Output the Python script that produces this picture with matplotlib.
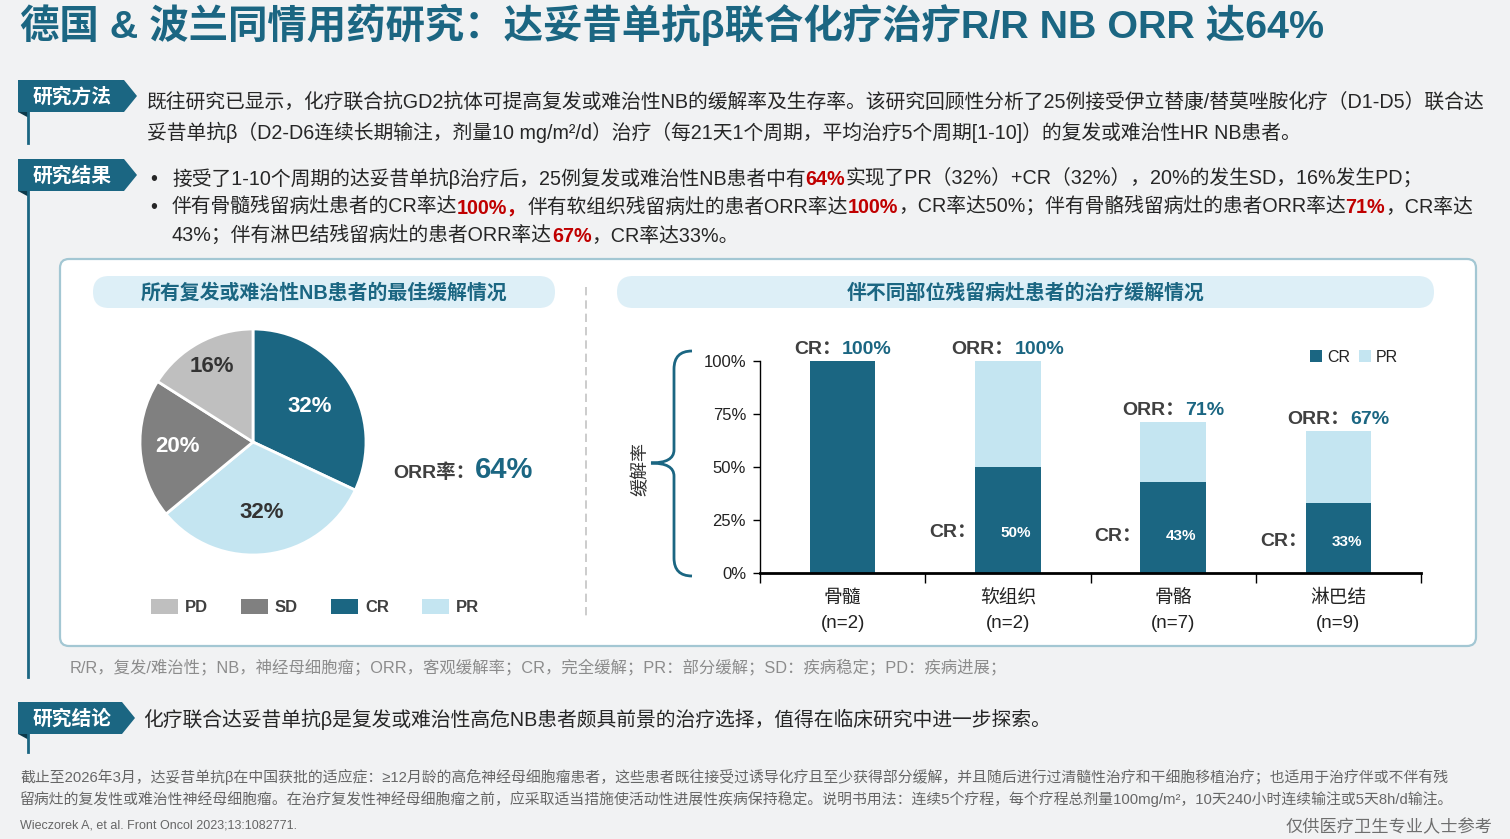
import numpy as np
import matplotlib
matplotlib.use('Agg')
import matplotlib.pyplot as plt
from matplotlib.patches import Polygon, FancyBboxPatch, PathPatch, Patch
from matplotlib.path import Path

plt.rcParams['font.family'] = ['Liberation Sans', 'Noto Sans CJK SC']

W, H = 1510, 839
TEAL = '#1B6682'
LIGHT = '#C4E5F1'
PILL = '#DDEFF7'
DARK = '#262626'
RED = '#C00000'

# ---- data ----
pie_labels = ['CR', 'PR', 'SD', 'PD']
pie_values = [32, 32, 20, 16]
pie_colors = [TEAL, LIGHT, '#808080', '#BFBFBF']
pie_text_colors = ['white', '#333333', 'white', '#333333']
orr_all = 64

sites = ['骨髓', '软组织', '骨骼', '淋巴结']
site_n = [2, 2, 7, 9]
cr_rate = [100, 50, 43, 33]
pr_rate = [0, 50, 28, 34]
orr_rate = [100, 100, 71, 67]
top_tag = ['CR', 'ORR', 'ORR', 'ORR']
yticks = [0, 25, 50, 75, 100]

fig = plt.figure(figsize=(W / 100, H / 100), dpi=100)
fig.patch.set_facecolor('#F1F2F3')
bg = fig.add_axes([0, 0, 1, 1])
bg.set_xlim(0, W)
bg.set_ylim(H, 0)
bg.axis('off')
renderer = fig.canvas.get_renderer()


def runs(ax, x, y, parts, size, ha='left'):
    # draw text pieces one after another on a common baseline
    texts = []
    cx = x
    for s, c, w, *sz in parts:
        fs = sz[0] if sz else size
        t = ax.text(cx, y, s, color=c, fontsize=fs, fontweight=w, ha='left', va='baseline', zorder=10)
        cx += t.get_window_extent(renderer).width
        texts.append(t)
    if ha == 'center':
        shift = (cx - x) / 2
        for t in texts:
            t.set_x(t.get_position()[0] - shift)
    return cx


def tab(x0, y0, y1, label, line_end, x1=124):
    ym = (y0 + y1) / 2
    bg.add_patch(Polygon([(x0, y0), (x1, y0), (x1 + 13, ym), (x1, y1), (x0, y1)],
                         closed=True, fc=TEAL, ec='none'))
    bg.add_patch(Polygon([(x0, y1), (x0 + 11, y1), (x0 + 11, y1 + 6)], closed=True, fc='#0D3A4B', ec='none'))
    bg.plot([x0 + 10, x0 + 10], [y1, line_end], color=TEAL, lw=2)
    bg.text(x0 + 15, ym + 1, label, color='white', fontsize=14.2, fontweight='bold', va='center', ha='left')


# ---- title ----
bg.text(20, 25, '德国 & 波兰同情用药研究：达妥昔单抗β联合化疗治疗R/R NB ORR 达64%', color=TEAL,
        fontsize=28.4, fontweight='bold', va='center', ha='left')

fs = 14.25

# ---- method ----
tab(18, 80, 112, '研究方法', 143)
bg.text(147, 108, '既往研究已显示，化疗联合抗GD2抗体可提高复发或难治性NB的缓解率及生存率。该研究回顾性分析了25例接受伊立替康/替莫唑胺化疗（D1-D5）联合达',
        color=DARK, fontsize=fs, va='baseline')
bg.text(147, 139, '妥昔单抗β（D2-D6连续长期输注，剂量10 mg/m²/d）治疗（每21天1个周期，平均治疗5个周期[1-10]）的复发或难治性HR NB患者。',
        color=DARK, fontsize=fs, va='baseline')

# ---- results ----
tab(18, 159, 191, '研究结果', 677)
bg.text(150, 185, '•', color=DARK, fontsize=fs, va='baseline')
bg.text(150, 213, '•', color=DARK, fontsize=fs, va='baseline')
runs(bg, 172, 185, [
    ('接受了1-10个周期的达妥昔单抗β治疗后，25例复发或难治性NB患者中有', DARK, 'normal'),
    (f'{orr_all}%', RED, 'bold'),
    (f'实现了PR（{pie_values[1]}%）+CR（{pie_values[0]}%），{pie_values[2]}%的发生SD，{pie_values[3]}%发生PD；', DARK, 'normal')], fs)
runs(bg, 172, 213, [
    ('伴有骨髓残留病灶患者的CR率达', DARK, 'normal'),
    (f'{cr_rate[0]}%，', RED, 'bold'),
    ('伴有软组织残留病灶的患者ORR率达', DARK, 'normal'),
    (f'{orr_rate[1]}%', RED, 'bold'),
    (f'，CR率达{cr_rate[1]}%；伴有骨骼残留病灶的患者ORR率达', DARK, 'normal'),
    (f'{orr_rate[2]}%', RED, 'bold'),
    ('，CR率达', DARK, 'normal')], fs)
runs(bg, 172, 242, [
    (f'{cr_rate[2]}%；伴有淋巴结残留病灶的患者ORR率达', DARK, 'normal'),
    (f'{orr_rate[3]}%', RED, 'bold'),
    (f'，CR率达{cr_rate[3]}%。', DARK, 'normal')], fs)

# ---- panel ----
bg.add_patch(FancyBboxPatch((60, 259), 1416, 387, boxstyle='round,pad=0,rounding_size=9',
                            fc='white', ec='#A3C7D3', lw=1.6))
bg.plot([586, 586], [287, 620], color='#C4C4C4', lw=1.2, ls=(0, (5, 3)))
for x0, x1, txt in [(93, 555, '所有复发或难治性NB患者的最佳缓解情况'), (617, 1434, '伴不同部位残留病灶患者的治疗缓解情况')]:
    bg.add_patch(FancyBboxPatch((x0, 276), x1 - x0, 32, boxstyle='round,pad=0,rounding_size=16',
                                fc=PILL, ec='none'))
    bg.text((x0 + x1) / 2, 293, txt, color=TEAL, fontsize=14.3, fontweight='bold', ha='center', va='center')

# ---- pie ----
cx, cy, r = 253, 442, 113
pax = fig.add_axes([(cx - r) / W, (H - cy - r) / H, 2 * r / W, 2 * r / H])
pax.set_facecolor('none')
wedges, _ = pax.pie(pie_values, colors=pie_colors, startangle=90, counterclock=False, radius=1,
                    wedgeprops=dict(edgecolor='white', linewidth=2))
pax.set_xlim(-1, 1)
pax.set_ylim(-1, 1)
label_r = [0.59, 0.63, 0.67, 0.76]
for w, v, c, lr in zip(wedges, pie_values, pie_text_colors, label_r):
    ang = np.deg2rad((w.theta1 + w.theta2) / 2)
    pax.text(lr * np.cos(ang), lr * np.sin(ang), f'{v}%', color=c, fontsize=16, fontweight='bold',
             ha='center', va='center')
order = [3, 2, 0, 1]
pax.legend([Patch(fc=pie_colors[i]) for i in order], [pie_labels[i] for i in order], ncol=4,
           loc='center left', bbox_to_anchor=(151, 607), bbox_transform=bg.transData, frameon=False,
           borderpad=0, borderaxespad=0, handlelength=1.6, handleheight=1.0, handletextpad=0.42,
           columnspacing=2.0, prop={'size': 12, 'weight': 'bold'}, labelcolor='#404040')

runs(bg, 393, 478, [('ORR率：', '#404040', 'bold', 14), (f'{orr_all}%', TEAL, 'bold', 21)], 14)

# ---- bars ----
x0b, x1b, y0b, y1b = 760, 1421, 573, 361
bax = fig.add_axes([x0b / W, (H - y0b) / H, (x1b - x0b) / W, (y0b - y1b) / H])
bax.set_facecolor('none')
xs = np.arange(len(sites))
bw = 0.395
bax.bar(xs, cr_rate, bw, color=TEAL, label='CR', zorder=2)
bax.bar(xs, pr_rate, bw, bottom=cr_rate, color=LIGHT, label='PR', zorder=2)
bax.set_xlim(-0.5, len(sites) - 0.5)
bax.set_ylim(0, 100)
bax.set_yticks(yticks)
bax.set_yticklabels([f'{t}%' for t in yticks], fontsize=12, color='#222222')
bax.set_xticks(np.arange(len(sites) + 1) - 0.5)
bax.set_xticklabels([])
bax.set_xticks(xs, minor=True)
bax.set_xticklabels([f'{s}\n(n={n})' for s, n in zip(sites, site_n)], minor=True, fontsize=13.5,
                    color='#222222', linespacing=1.62)
bax.tick_params(axis='x', which='major', length=7, width=1, direction='out')
bax.tick_params(axis='x', which='minor', length=0, pad=12)
bax.tick_params(axis='y', length=5, width=1, pad=5)
for s in ['top', 'right']:
    bax.spines[s].set_visible(False)
bax.spines['left'].set_linewidth(1)
bax.spines['bottom'].set_linewidth(2)
bax.set_ylabel('缓解率', fontsize=13, color='#333333')
bax.yaxis.set_label_coords((650 - x0b) / (x1b - x0b), 0.49)
bax.legend(loc='center left', bbox_to_anchor=(1310, 357), bbox_transform=bg.transData, ncol=2,
           frameon=False, borderpad=0, borderaxespad=0, handlelength=0.75, handleheight=0.75,
           handletextpad=0.3, columnspacing=0.6, fontsize=11.5, labelcolor='#222222')

for i in xs:
    if cr_rate[i] < orr_rate[i]:
        ly = cr_rate[i] * 0.25 + 6.5
        bax.text(i - bw / 2 + 0.01, ly, 'CR：', color='#404040', fontsize=14, fontweight='bold',
                 ha='right', va='center', zorder=5)
        bax.text(i + 0.05, ly, f'{cr_rate[i]}%', color='white', fontsize=11, fontweight='bold',
                 ha='center', va='center', zorder=5)

top = fig.add_axes([0, 0, 1, 1])
top.set_xlim(0, W)
top.set_ylim(H, 0)
top.axis('off')
top.set_facecolor('none')
for i in xs:
    px, py = bax.transData.transform((i, orr_rate[i]))
    px, py = top.transData.inverted().transform((px, py))
    runs(top, px, py - 7, [(f'{top_tag[i]}：', '#404040', 'bold'), (f'{orr_rate[i]}%', TEAL, 'bold')], 14,
         ha='center')

# brace
verts = [(692, 351), (674, 351), (674, 369), (674, 450), (674, 463), (651, 463),
         (674, 463), (674, 476), (674, 558), (674, 576), (692, 576)]
codes = [Path.MOVETO, Path.CURVE3, Path.CURVE3, Path.LINETO, Path.CURVE3, Path.CURVE3,
         Path.CURVE3, Path.CURVE3, Path.LINETO, Path.CURVE3, Path.CURVE3]
top.add_patch(PathPatch(Path(verts, codes), fc='none', ec=TEAL, lw=2))

# ---- footnotes ----
bg.text(70, 667, 'R/R，复发/难治性；NB，神经母细胞瘤；ORR，客观缓解率；CR，完全缓解；PR：部分缓解；SD：疾病稳定；PD：疾病进展；',
        color='#8C8C8C', fontsize=11.8, va='center')

tab(18, 702, 734, '研究结论', 752, x1=122)
bg.text(143, 726, '化疗联合达妥昔单抗β是复发或难治性高危NB患者颇具前景的治疗选择，值得在临床研究中进一步探索。',
        color=DARK, fontsize=fs, va='baseline')

bg.text(20, 777, '截止至2026年3月，达妥昔单抗β在中国获批的适应症：≥12月龄的高危神经母细胞瘤患者，这些患者既往接受过诱导化疗且至少获得部分缓解，并且随后进行过清髓性治疗和干细胞移植治疗；也适用于治疗伴或不伴有残',
        color='#666666', fontsize=10.7, va='center')
bg.text(20, 799, '留病灶的复发性或难治性神经母细胞瘤。在治疗复发性神经母细胞瘤之前，应采取适当措施使活动性进展性疾病保持稳定。说明书用法：连续5个疗程，每个疗程总剂量100mg/m²，10天240小时连续输注或5天8h/d输注。',
        color='#666666', fontsize=10.7, va='center')
bg.text(20, 826, 'Wieczorek A, et al. Front Oncol 2023;13:1082771.', color='#666666', fontsize=9, va='center')
bg.text(1493, 827, '仅供医疗卫生专业人士参考', color='#6E6E6E', fontsize=12.4, va='center', ha='right')

fig.savefig('out.png', dpi=100, facecolor=fig.get_facecolor())
